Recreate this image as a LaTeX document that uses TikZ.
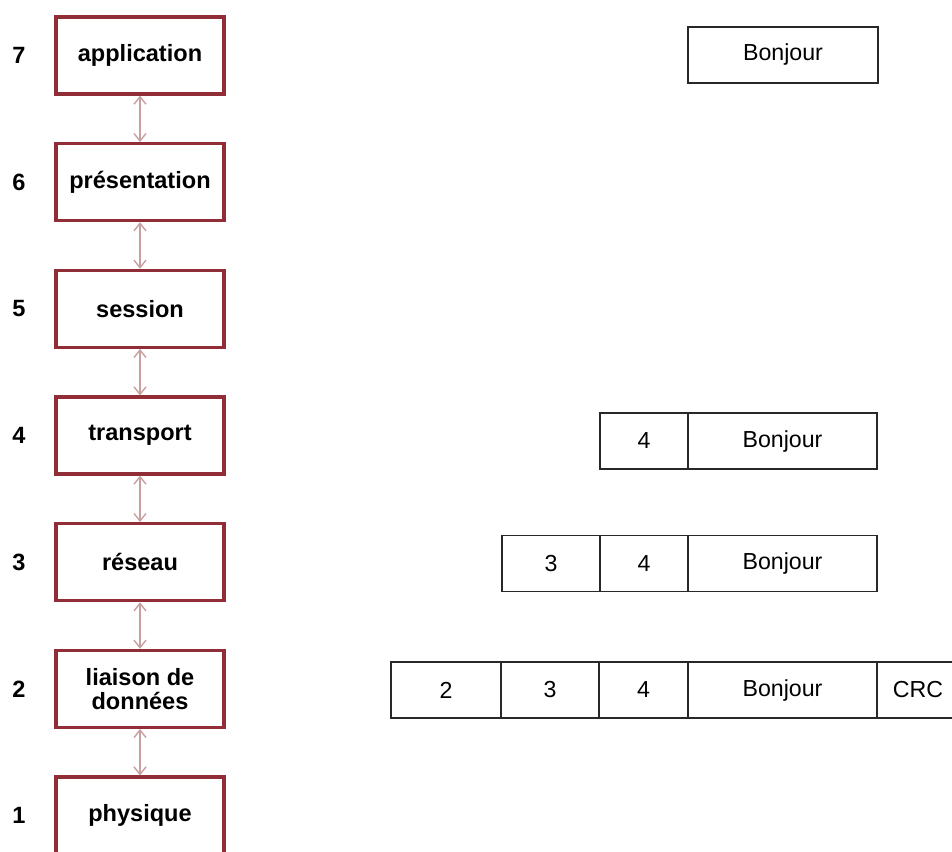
\documentclass[tikz,border=0pt]{standalone}
\usepackage{fontspec}
\setmainfont{Liberation Sans}
\usepackage{tikz}
\usepackage{xcolor}
\usetikzlibrary{arrows.meta, positioning}
\definecolor{cLayer}{RGB}{145,45,55}
\definecolor{cLink}{RGB}{200,160,160}
\definecolor{cCell}{RGB}{40,40,40}
\tikzset{
	layer/.style={rectangle, draw=cLayer, line width=1.8pt, minimum width=3.36cm, minimum height=1.54cm, align=center, inner sep=1pt, font=\bfseries\fontsize{13.4}{13.8}\selectfont},
	num/.style  ={font=\bfseries\fontsize{13.4}{15}\selectfont},
	cell/.style ={rectangle, draw=cCell, line width=0.9pt, minimum height=1.12cm, inner sep=0pt, font=\fontsize{13.2}{15}\selectfont},
	link/.style ={{Straight Barb[length=1.5mm, width=2.4mm]}-{Straight Barb[length=1.5mm, width=2.4mm]}, cLink, line width=0.8pt},
}

\begin{document}
\begin{tikzpicture}[x=0.02cm, y=-0.02cm]
	\clip (0,0) rectangle (952,851);
	\fill[white] (0,0) rectangle (952,851);
	% the seven layers
	\foreach \k/\txt in {7/application, 6/présentation, 5/session, 4/transport, 3/réseau, 2/{liaison de\\données}, 1/physique} {
		\node[layer] (L\k) at (140,{55.5+(7-\k)*126.67}) {\txt};
		\node[num] (N\k) at (19,{55.5+(7-\k)*126.67}) {\k};
	}
	\foreach \a/\b in {7/6,6/5,5/4,4/3,3/2,2/1} {
		\draw[link] (L\a) -- (L\b);
	}
	% encapsulated data
	\node[cell, minimum width=3.8cm]  (b7) at (783,55) {Bonjour};
	\node[cell, minimum width=1.76cm] (h44) at (644,441) {4};
	\node[cell, minimum width=3.78cm] (b4) at (782.5,441) {Bonjour};
	\node[cell, minimum width=1.96cm] (h33) at (551,563.5) {3};
	\node[cell, minimum width=1.76cm] (h34) at (644,563.5) {4};
	\node[cell, minimum width=3.78cm] (b3) at (782.5,563.5) {Bonjour};
	\node[cell, minimum width=2.2cm]  (h22) at (446,690) {2};
	\node[cell, minimum width=1.96cm] (h23) at (550,690) {3};
	\node[cell, minimum width=1.78cm] (h24) at (643.5,690) {4};
	\node[cell, minimum width=3.78cm] (b2) at (782.5,690) {Bonjour};
	\node[cell, minimum width=1.64cm] (crc) at (918,690) {CRC};
\end{tikzpicture}
\end{document}
